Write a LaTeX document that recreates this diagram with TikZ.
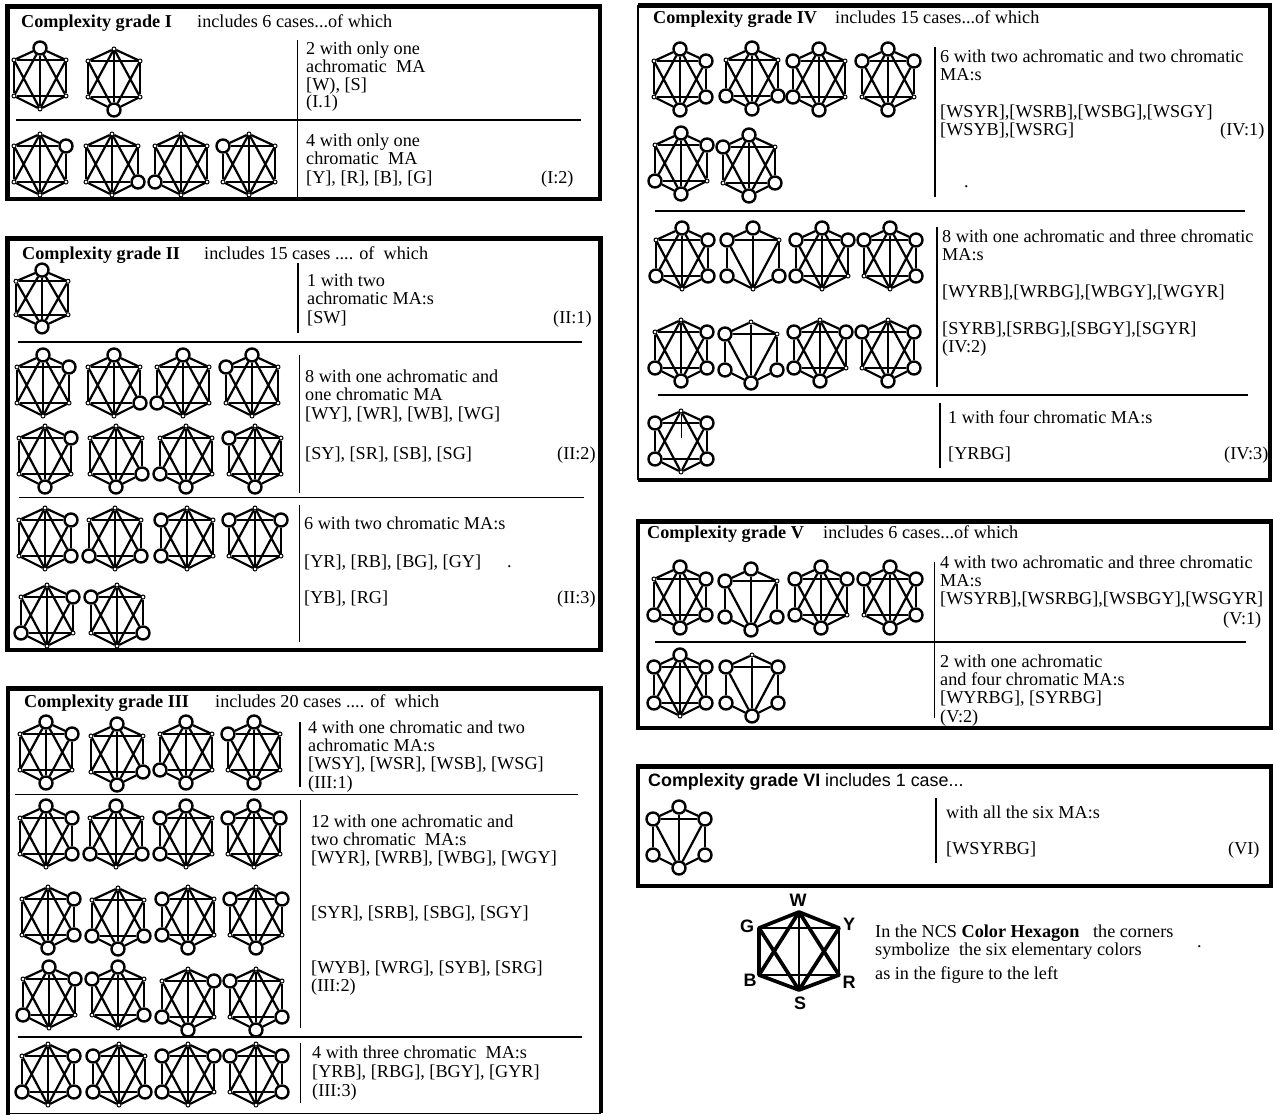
\documentclass[tikz,border=0pt]{standalone}
\usepackage{fontspec}
\setmainfont{Liberation Serif}
\newfontfamily\lsans{Liberation Sans}
\newcount\hexn
\newcount\txtn
\def\vs{1}
\tikzset{
 hexdot/.style={circle,draw=black,fill=white,line width=1pt,minimum size=4pt,inner sep=0pt},
 hexbig/.style={circle,draw=black,fill=white,line width=2.4pt,minimum size=13pt,inner sep=0pt},
 slant/.style={line width=2.2pt},
 side/.style={line width=1.7pt},
 bar/.style={line width=1.7pt},
 spine/.style={line width=1.6pt},
 boxline/.style={line width=4.4pt,line join=miter},
 boxthin/.style={line width=1.6pt},
 sep/.style={line width=1.3pt},
 vsep/.style={line width=1.5pt},
 txt/.style={anchor=base west,inner sep=0pt,font=\fontsize{18.2}{20}\selectfont},
 sanstxt/.style={anchor=base west,inner sep=0pt,font=\fontsize{17.9}{20}\selectfont\lsans},
 leglab/.style={anchor=center,inner sep=0pt,font=\fontsize{18}{20}\selectfont\lsans\bfseries},
 legedge/.style={line width=3.7pt,line cap=round},
 legthin/.style={line width=2.8pt,line cap=round},
}
\makeatletter
\newcommand\hexcorner[5]{%
  \in@{#2}{#5}\ifin@\def\hexsty{hexbig}\else\def\hexsty{hexdot}\fi
  \node[\hexsty] (#1#2) at (#3,#4) {};}
\makeatother
\newcommand\hexnodes[3]{%
  \global\advance\hexn by 1
  \edef\hid{h\the\hexn}%
  \hexcorner{\hid}{W}{#1}{#2-30*\vs}{#3}%
  \hexcorner{\hid}{Y}{#1+26}{#2-18*\vs}{#3}%
  \hexcorner{\hid}{R}{#1+26}{#2+18*\vs}{#3}%
  \hexcorner{\hid}{S}{#1}{#2+31*\vs}{#3}%
  \hexcorner{\hid}{B}{#1-26}{#2+18*\vs}{#3}%
  \hexcorner{\hid}{G}{#1-26}{#2-18*\vs}{#3}%
  \draw[slant] (\hid W)--(\hid Y) (\hid R)--(\hid S) (\hid S)--(\hid B) (\hid G)--(\hid W);
  \draw[side] (\hid Y)--(\hid R) (\hid B)--(\hid G);
  \draw[bar] (\hid G)--(\hid Y);
}
\newcommand\hexg[3]{\hexnodes{#1}{#2}{#3}%
  \draw[bar] (\hid B)--(\hid R);
  \draw[spine] (\hid W)--(\hid S);
  \draw[slant] (\hid W)--(\hid R) (\hid W)--(\hid B) (\hid S)--(\hid G) (\hid S)--(\hid Y);}
\newcommand\hextri[3]{\hexnodes{#1}{#2}{#3}%
  \draw[spine] (\hid W)--(\hid S);
  \draw[slant] (\hid S)--(\hid G) (\hid S)--(\hid Y);}
\newcommand\hexpart[3]{\hexnodes{#1}{#2}{#3}%
  \coordinate (\hid M) at (#1,#2-3);
  \draw[bar] (\hid B)--(\hid R);
  \draw[line width=0.8pt] (\hid W)--(\hid M);
  \draw[slant] (\hid W)--(\hid R) (\hid W)--(\hid B) (\hid S)--(\hid G) (\hid S)--(\hid Y);}
\newcommand\tx[3]{\global\advance\txtn by 1 \node[txt] (t\the\txtn) at (#1,#2+1) {#3};}
\newcommand\sx[3]{\global\advance\txtn by 1 \node[sanstxt] (t\the\txtn) at (#1,#2) {#3};}
\begin{document}
\begin{tikzpicture}[x=1pt,y=-1pt]
\useasboundingbox (0,0) rectangle (1273,1115);
\fill[white] (0,0) rectangle (1273,1115);
% boxes
\draw[boxline] (7.5,6.5) rectangle (600,199);
\draw[boxline] (7.5,238.5) rectangle (600.5,650);
\draw[boxline] (8,1115) -- (8,688.5) -- (601,688.5) -- (601,1113);
\draw[boxthin] (8,1113.5) -- (601,1113.5);
\draw[boxline] (1270,480) -- (1270,5.5) -- (638,5.5);
\draw[boxline] (638,480) -- (1272,480);
\draw[boxthin] (638,5) -- (638,480);
\draw[boxline] (638,521.5) rectangle (1271,728);
\draw[boxline] (638,766.5) rectangle (1271,886);
% dividers
\draw[sep] (16,120) -- (581,120);
\draw[vsep] (297.5,40) -- (297.5,197);
\draw[vsep] (298,263) -- (298,333);
\draw[sep] (18,342) -- (582,342);
\draw[vsep] (299.5,355) -- (299.5,493);
\draw[sep] (19,497.5) -- (584,497.5);
\draw[vsep] (299.5,505) -- (299.5,642);
\draw[vsep] (300,722) -- (300,787);
\draw[sep] (15,794.5) -- (578,794.5);
\draw[vsep] (300.5,800) -- (300.5,1028);
\draw[sep] (18,1037) -- (582,1037);
\draw[vsep] (300.5,1043) -- (300.5,1103);
\draw[vsep] (935,47) -- (935,197);
\draw[sep] (655,211) -- (1245,211);
\draw[vsep] (937,227) -- (937,387);
\draw[sep] (658,395) -- (1248,395);
\draw[vsep] (940,403) -- (940,468);
\draw[vsep] (934.5,562) -- (934.5,718);
\draw[sep] (655,642) -- (1246,642);
\draw[vsep] (936,798) -- (936,863);
% grade I
\hexg{40}{78}{W}\hexg{114}{79}{S}
\hexg{40}{164}{Y}\hexg{112}{164}{R}\hexg{181}{164}{B}\hexg{249}{164}{G}
% grade II
{\def\vs{0.93}\hexg{42}{298}{WS}}
\hexg{43}{385}{WY}\hexg{114}{385}{WR}\hexg{183}{385}{WB}\hexg{252}{385}{WG}
\hexg{45}{456}{SY}\hexg{116}{456}{SR}\hexg{186}{456}{SB}\hexg{255}{456}{SG}
\hexg{45}{538}{YR}\hexg{115}{538}{RB}\hexg{187}{538}{BG}\hexg{255}{538}{GY}
\hexg{47}{615}{YB}\hexg{117}{615}{GR}
% grade III
\hexg{46}{752}{WSY}\hexg{117}{754}{WSR}\hexg{186}{752}{WSB}\hexg{254}{752}{WSG}
\hexg{46}{836}{WYR}\hexg{116}{836}{WRB}\hexg{186}{836}{WBG}\hexg{254}{836}{WGY}
\hexg{48}{917}{SYR}\hexg{118}{918}{SRB}\hexg{188}{917}{SBG}\hexg{256}{917}{SGY}
\hexg{49}{997}{WYB}\hexg{118}{997}{WRG}\hexg{188}{999}{SYB}\hexg{256}{999}{SRG}
\hexg{48}{1074}{YRB}\hexg{119}{1074}{RBG}\hexg{188}{1074}{BGY}\hexg{256}{1074}{GYR}
% grade IV
\hexg{680}{79}{WSYR}\hexg{752}{78}{WSRB}\hexg{819}{79}{WSBG}\hexg{888}{79}{WSGY}
\hexg{681}{163}{WSYB}\hexg{749}{165}{WSRG}
\hexg{682}{258}{WYRB}\hextri{753}{258}{WRBG}\hexg{822}{258}{WBGY}\hexg{890}{258}{WGYR}
\hexg{681}{350}{SYRB}\hextri{751}{352}{SRBG}\hexg{820}{350}{SBGY}\hexg{888}{350}{SGYR}
\hexpart{681}{441}{GYBR}
% grade V
\hexg{680}{597}{WYRSB}\hextri{751}{599}{WRBSG}\hexg{821}{597}{WGYBS}\hexg{890}{597}{WGYRS}
\hexg{680}{685}{WYRBG}\hextri{752}{685}{GYBRS}
% grade VI
\hextri{679}{837}{WYRSBG}
% legend
\coordinate (LW) at (799,912);
\coordinate (LY) at (839,928);
\coordinate (LR) at (839,975);
\coordinate (LS) at (799,990);
\coordinate (LB) at (759,975);
\coordinate (LG) at (759,928);
\draw[legedge] (LW)--(LY) (LW)--(LG) (LS)--(LR) (LS)--(LB) (LW)--(LR) (LW)--(LB) (LS)--(LG) (LS)--(LY) (LB)--(LG);
\draw[legthin] (LG)--(LY) (LB)--(LR) (LW)--(LS) (LY)--(LR);
\node[leglab] (lw) at (798,900) {W};
\node[leglab] (lg) at (747,926) {G};
\node[leglab] (ly) at (849,924) {Y};
\node[leglab] (lb) at (750,980) {B};
\node[leglab] (lr) at (849,982) {R};
\node[leglab] (ls) at (800,1003) {S};
% texts I
\tx{21}{27}{\bfseries Complexity grade I}
\tx{197}{27}{includes 6 cases...of which}
\tx{306}{54}{2 with only one}
\tx{306}{72}{achromatic\ \ MA}
\tx{306}{90}{[W), [S]}
\tx{306}{107}{(I.1)}
\tx{306}{146}{4 with only one}
\tx{306}{164}{chromatic\ \ MA}
\tx{306}{183}{[Y], [R], [B], [G]}
\tx{541}{183}{(I:2)}
% texts II
\tx{22}{258}{\bfseries Complexity grade II}
\tx{204}{258}{includes 15 cases .... of\ \ which}
\tx{307}{285}{1 with two}
\tx{307}{303}{achromatic MA:s}
\tx{307}{322}{[SW]}
\tx{553}{322}{(II:1)}
\tx{305}{381}{8 with one achromatic and}
\tx{305}{399}{one chromatic MA}
\tx{305}{418}{[WY], [WR], [WB], [WG]}
\tx{305}{458}{[SY], [SR], [SB], [SG]}
\tx{557}{458}{(II:2)}
\tx{304}{528}{6 with two chromatic MA:s}
\tx{304}{566}{[YR], [RB], [BG], [GY]}
\tx{507}{566}{.}
\tx{304}{602}{[YB], [RG]}
\tx{557}{602}{(II:3)}
% texts III
\tx{24}{706}{\bfseries Complexity grade III}
\tx{215}{706}{includes 20 cases .... of\ \ which}
\tx{308}{732}{4 with one chromatic and two}
\tx{308}{750}{achromatic MA:s}
\tx{308}{768}{[WSY], [WSR], [WSB], [WSG]}
\tx{308}{787}{(III:1)}
\tx{311}{826}{12 with one achromatic and}
\tx{311}{844}{two chromatic\ \ MA:s}
\tx{311}{862}{[WYR], [WRB], [WBG], [WGY]}
\tx{311}{917}{[SYR], [SRB], [SBG], [SGY]}
\tx{311}{972}{[WYB], [WRG], [SYB], [SRG]}
\tx{311}{990}{(III:2)}
\tx{312}{1057}{4 with three chromatic\ \ MA:s}
\tx{312}{1076}{[YRB], [RBG], [BGY], [GYR]}
\tx{312}{1095}{(III:3)}
% texts IV
\tx{653}{23}{\bfseries Complexity grade IV}
\tx{835}{23}{includes 15 cases...of which}
\tx{940}{62}{6 with two achromatic and two chromatic}
\tx{940}{80}{MA:s}
\tx{940}{117}{[WSYR],[WSRB],[WSBG],[WSGY]}
\tx{940}{135}{[WSYB],[WSRG]}
\tx{1220}{135}{(IV:1)}
\tx{964}{187}{.}
\tx{942}{242}{8 with one achromatic and three chromatic}
\tx{942}{260}{MA:s}
\tx{942}{296}{[WYRB],[WRBG],[WBGY],[WGYR]}
\tx{942}{333}{[SYRB],[SRBG],[SBGY],[SGYR]}
\tx{942}{351}{(IV:2)}
\tx{948}{422}{1 with four chromatic MA:s}
\tx{948}{458}{[YRBG]}
\tx{1224}{458}{(IV:3)}
% texts V
\tx{647}{537}{\bfseries Complexity grade V}
\tx{823}{537}{includes 6 cases...of which}
\tx{940}{567}{4 with two achromatic and three chromatic}
\tx{940}{585}{MA:s}
\tx{940}{603}{[WSYRB],[WSRBG],[WSBGY],[WSGYR]}
\tx{1223}{623}{(V:1)}
\tx{940}{666}{2 with one achromatic}
\tx{940}{684}{and four chromatic MA:s}
\tx{940}{702}{[WYRBG], [SYRBG]}
\tx{940}{721}{(V:2)}
% texts VI
\sx{648}{786}{\bfseries Complexity grade VI}
\sx{825}{786}{includes 1 case...}
\tx{946}{817}{with all the six MA:s}
\tx{946}{853}{[WSYRBG]}
\tx{1228}{853}{(VI)}
% legend text
\tx{875}{936}{In the NCS \textbf{Color Hexagon}\ \ \ the corners}
\tx{875}{954}{symbolize\ \ the six elementary colors}
\tx{875}{978}{as in the figure to the left}
\tx{1197}{946}{.}
\end{tikzpicture}
\end{document}
